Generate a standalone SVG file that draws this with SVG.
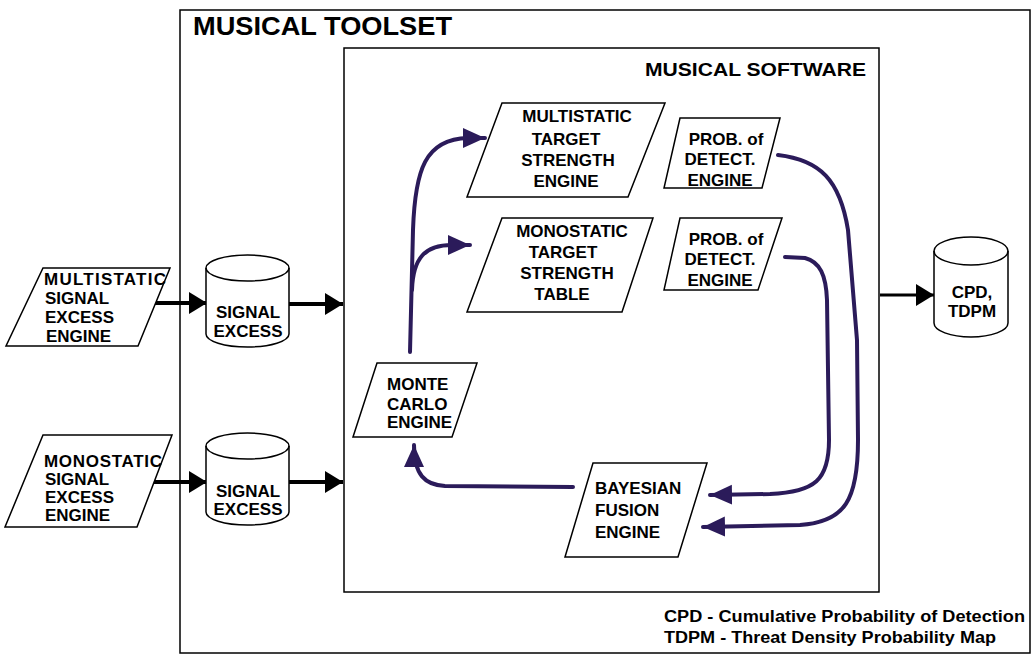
<svg xmlns="http://www.w3.org/2000/svg" width="1032" height="655" viewBox="0 0 1032 655">
<style>
.frame{fill:none;stroke:#000;stroke-width:1.5}
.shape{fill:#fff;stroke:#000;stroke-width:1.5}
.t{font-family:"Liberation Sans",Arial,sans-serif;font-weight:bold;font-size:17px;fill:#000}
.c{text-anchor:middle}
.blk{fill:none;stroke:#000;stroke-width:4}
.pur{fill:none;stroke:#2b1b5a;stroke-width:4;stroke-linecap:round}
</style>
<defs>
<marker id="ab" markerUnits="userSpaceOnUse" markerWidth="20" markerHeight="22" refX="18" refY="11" orient="auto"><path d="M0,0 L18,11 L0,22 Z" fill="#000"/></marker>
<marker id="ap" markerUnits="userSpaceOnUse" markerWidth="24" markerHeight="22" refX="22" refY="11" orient="auto"><path d="M0,1 L22,11 L0,21 Z" fill="#2b1b5a"/></marker>
</defs>
<g id="toolset">
<rect class="frame" x="180" y="10" width="850" height="643"/>
<text class="t" x="193" y="35" style="font-size:26px" textLength="259" lengthAdjust="spacingAndGlyphs">MUSICAL TOOLSET</text>
</g>
<g id="software">
<rect class="frame" x="344" y="48" width="535" height="544"/>
<text class="t" x="866" y="76" text-anchor="end" style="font-size:19px" textLength="221" lengthAdjust="spacingAndGlyphs">MUSICAL SOFTWARE</text>
</g>
<g id="connectors">
<path class="blk" d="M152,303 L207,303" marker-end="url(#ab)"/>
<path class="blk" d="M289,304 L343,304" marker-end="url(#ab)"/>
<path class="blk" d="M152,482 L207,482" marker-end="url(#ab)"/>
<path class="blk" d="M289,482 L343,482" marker-end="url(#ab)"/>
<path class="blk" style="stroke-width:3" d="M880,295 L934,295" marker-end="url(#ab)"/>
<path class="pur" d="M410,352 L413,230 C415,170 425,139 468,138 L485,138" marker-end="url(#ap)"/>
<path class="pur" d="M412,290 C413,258 425,245 452,245 L470,245" marker-end="url(#ap)"/>
<path class="pur" d="M573,487 L445,486 C425,485 414,475 414,445" marker-end="url(#ap)"/>
<path class="pur" d="M778,155 C820,160 840,180 848,230 L857,340 L858,440 C858,500 845,522 800,525 L703,527" marker-end="url(#ap)"/>
<path class="pur" d="M785,257 L805,258 C820,262 826,275 827,300 L829,440 C829,480 815,492 770,494 L710,495" marker-end="url(#ap)"/>
</g>
<g id="multistatic-se-engine">
<polygon class="shape" points="43,268 170,268 138,346 6,346"/>
<text class="t" x="44" y="285" textLength="122" lengthAdjust="spacing">MULTISTATIC</text>
<text class="t" x="45" y="304">SIGNAL</text>
<text class="t" x="45" y="323">EXCESS</text>
<text class="t" x="46" y="342">ENGINE</text>
</g>
<g id="monostatic-se-engine">
<polygon class="shape" points="43,435 172,435 137,527 5,527"/>
<text class="t" x="44" y="467" textLength="118" lengthAdjust="spacing">MONOSTATIC</text>
<text class="t" x="45" y="485">SIGNAL</text>
<text class="t" x="45" y="503">EXCESS</text>
<text class="t" x="45" y="521">ENGINE</text>
</g>
<g id="signal-excess-1">
<path class="shape" d="M206,268 A41.5,13 0 0 1 289,268 L289,334 A41.5,13 0 0 1 206,334 Z"/>
<path class="frame" d="M206,268 A41.5,13 0 0 0 289,268"/>
<text class="t c" x="248" y="318">SIGNAL</text>
<text class="t c" x="248" y="337">EXCESS</text>
</g>
<g id="signal-excess-2">
<path class="shape" d="M206,446 A41.5,13 0 0 1 289,446 L289,512 A41.5,13 0 0 1 206,512 Z"/>
<path class="frame" d="M206,446 A41.5,13 0 0 0 289,446"/>
<text class="t c" x="248" y="497">SIGNAL</text>
<text class="t c" x="248" y="515">EXCESS</text>
</g>
<g id="multistatic-ts-engine">
<polygon class="shape" points="502,103 665,103 628,197 467,197"/>
<text class="t c" x="577" y="122">MULTISTATIC</text>
<text class="t c" x="566" y="145">TARGET</text>
<text class="t c" x="568" y="166">STRENGTH</text>
<text class="t c" x="566" y="187">ENGINE</text>
</g>
<g id="pd-engine-1">
<polygon class="shape" points="680,118 780,118 762,188 664,188"/>
<text class="t c" x="726" y="145">PROB. of</text>
<text class="t c" x="720" y="165">DETECT.</text>
<text class="t c" x="720" y="186">ENGINE</text>
</g>
<g id="monostatic-ts-table">
<polygon class="shape" points="502,218 653,218 622,312 467,312"/>
<text class="t c" x="572" y="237">MONOSTATIC</text>
<text class="t c" x="563" y="258">TARGET</text>
<text class="t c" x="567" y="279">STRENGTH</text>
<text class="t c" x="562" y="300">TABLE</text>
</g>
<g id="pd-engine-2">
<polygon class="shape" points="680,218 782,218 758,290 664,290"/>
<text class="t c" x="726" y="245">PROB. of</text>
<text class="t c" x="720" y="265">DETECT.</text>
<text class="t c" x="720" y="286">ENGINE</text>
</g>
<g id="monte-carlo-engine">
<polygon class="shape" points="377,363 477,363 452,437 353,437"/>
<text class="t" x="387" y="390">MONTE</text>
<text class="t" x="387" y="410">CARLO</text>
<text class="t" x="387" y="428">ENGINE</text>
</g>
<g id="bayesian-fusion-engine">
<polygon class="shape" points="593,463 707,463 678,557 565,557"/>
<text class="t" x="595" y="494">BAYESIAN</text>
<text class="t" x="595" y="516">FUSION</text>
<text class="t" x="595" y="538">ENGINE</text>
</g>
<g id="cpd-tdpm">
<path class="shape" d="M934,251 A37,14 0 0 1 1008,251 L1008,323 A37,14 0 0 1 934,323 Z"/>
<path class="frame" d="M934,251 A37,14 0 0 0 1008,251"/>
<text class="t c" x="972" y="298">CPD,</text>
<text class="t c" x="972" y="317">TDPM</text>
</g>
<g id="legend">
<text class="t" x="664" y="622" style="font-size:16px" textLength="361" lengthAdjust="spacingAndGlyphs">CPD - Cumulative Probability of Detection</text>
<text class="t" x="664" y="643" style="font-size:16px" textLength="332" lengthAdjust="spacingAndGlyphs">TDPM - Threat Density Probability Map</text>
</g>
</svg>
